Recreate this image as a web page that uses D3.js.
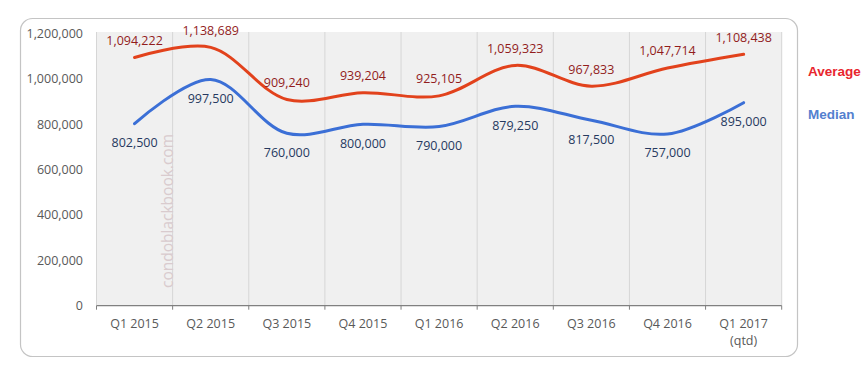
<!DOCTYPE html>
<html lang="en">
<head>
    <meta charset="UTF-8">
    <title>Condo prices by quarter</title>
    <script src="https://d3js.org/d3.v7.min.js"></script>
    <style>
        body{ margin:0; background:#fff; font-family:"Open Sans", sans-serif; }
    </style>
</head>
<body>
<svg width="864" height="377"></svg>
<script>
    // data
    const quarters = ["Q1 2015","Q2 2015","Q3 2015","Q4 2015","Q1 2016","Q2 2016","Q3 2016","Q4 2016","Q1 2017|(qtd)"];
    const average = [1094222,1138689,909240,939204,925105,1059323,967833,1047714,1108438];
    const median = [802500,997500,760000,800000,790000,879250,817500,757000,895000];
    const yTicks = [0,200000,400000,600000,800000,1000000,1200000];

    const svg = d3.select('svg');
    const plotL = 96.5, plotR = 781.7, plotT = 32, plotB = 305.7;
    const fs = 12.5;

    // outer frame
    svg.append('rect')
        .attr('x',20.5).attr('y',18.5).attr('width',777).attr('height',338)
        .attr('rx',12).attr('fill','#fff').attr('stroke','#c4c4c4').attr('stroke-width',1.2);

    const x = d3.scaleBand().domain(quarters).range([plotL,plotR]).padding(0);
    const y = d3.scaleLinear().domain([0,1200000]).range([plotB,33.5]);

    // plot background
    svg.append('rect').attr('x',plotL).attr('y',plotT)
        .attr('width',plotR-plotL).attr('height',plotB-plotT).attr('fill','#f0f0f0');

    // vertical grid at band edges
    const edges = quarters.map(q=>x(q)).concat([plotR]);
    svg.selectAll('line.grid').data(edges).enter().append('line')
        .attr('class','grid')
        .attr('x1',d=>d).attr('x2',d=>d).attr('y1',plotT).attr('y2',plotB)
        .attr('stroke','#d6d6d6').attr('stroke-width',1);

    // watermark
    svg.append('text')
        .attr('transform','translate(173,211) rotate(-90)')
        .attr('text-anchor','middle')
        .attr('font-size',15.5).attr('fill','#d9cbce')
        .text('condoblackbook.com');

    // y labels
    const fmt = d3.format(',');
    svg.selectAll('text.ylab').data(yTicks).enter().append('text')
        .attr('class','ylab')
        .attr('x',83).attr('y',d=>y(d)).attr('dy','0.35em')
        .attr('text-anchor','end').attr('font-size',fs).attr('fill','#595959')
        .text(d=>fmt(d));

    // x axis line and ticks
    svg.append('line').attr('x1',plotL).attr('x2',plotR).attr('y1',plotB).attr('y2',plotB)
        .attr('stroke','#808080').attr('stroke-width',1.3);
    svg.selectAll('line.tick').data(edges).enter().append('line')
        .attr('class','tick')
        .attr('x1',d=>d).attr('x2',d=>d).attr('y1',plotB).attr('y2',plotB+4)
        .attr('stroke','#808080').attr('stroke-width',1);

    // x labels
    const xl = svg.selectAll('text.xlab').data(quarters).enter().append('text')
        .attr('class','xlab')
        .attr('text-anchor','middle').attr('font-size',fs).attr('fill','#595959');
    xl.selectAll('tspan').data(d=>d.split('|').map(s=>({q:d,s:s}))).enter().append('tspan')
        .attr('x',d=>x(d.q)+x.bandwidth()/2)
        .attr('y',(d,i)=>328+i*17)
        .text(d=>d.s);

    // lines
    const cx = (d,i)=>x(quarters[i])+x.bandwidth()/2;
    const line = d3.line().x(cx).y(d=>y(d)).curve(d3.curveCatmullRom.alpha(0.5));
    svg.append('path').datum(average).attr('d',line)
        .attr('fill','none').attr('stroke','#e2421c').attr('stroke-width',3)
        .attr('stroke-linecap','round');
    svg.append('path').datum(median).attr('d',line)
        .attr('fill','none').attr('stroke','#3b6fd6').attr('stroke-width',3)
        .attr('stroke-linecap','round');

    // value labels
    svg.selectAll('text.avg').data(average).enter().append('text')
        .attr('x',cx).attr('y',d=>y(d)-17).attr('dy','0.35em')
        .attr('text-anchor','middle').attr('font-size',fs).attr('fill','#921c1c')
        .text(d=>fmt(d));
    svg.selectAll('text.med').data(median).enter().append('text')
        .attr('x',cx).attr('y',d=>y(d)+19).attr('dy','0.35em')
        .attr('text-anchor','middle').attr('font-size',fs).attr('fill','#26395f')
        .text(d=>fmt(d));

    // legend
    svg.append('text').attr('x',808).attr('y',71).attr('dy','0.35em')
        .attr('font-family','Liberation Sans, Arial, sans-serif').attr('font-weight','bold')
        .attr('font-size',13.5).attr('fill','#e8262e').text('Average');
    svg.append('text').attr('x',808).attr('y',114).attr('dy','0.35em')
        .attr('font-family','Liberation Sans, Arial, sans-serif').attr('font-weight','bold')
        .attr('font-size',13.5).attr('fill','#5380cf').text('Median');
</script>
</body>
</html>
